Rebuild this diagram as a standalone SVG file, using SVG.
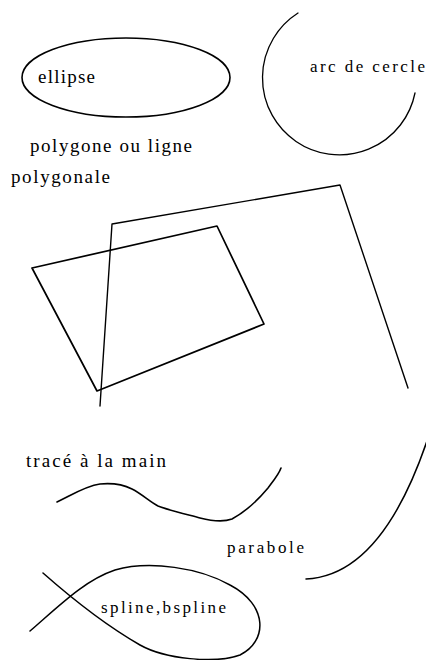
<svg xmlns="http://www.w3.org/2000/svg" width="426" height="660" viewBox="0 0 426 660">
<style>
.s{fill:none;stroke:#000;stroke-linejoin:round;stroke-linecap:round}
.t{font-family:"Liberation Serif","DejaVu Serif",serif;font-size:19px;fill:#000}
.m{font-size:17px}
</style>
<rect width="426" height="660" fill="#fff"/>
<g id="ellipse">
<ellipse class="s" cx="126" cy="77.5" rx="104" ry="39.5" stroke-width="1.6"/>
<text class="t" x="38" y="83" textLength="57" lengthAdjust="spacing">ellipse</text>
</g>
<g id="arc">
<path class="s" d="M298,13 A77,77 0 1 0 415,93" stroke-width="1.3"/>
<text class="t m" x="310" y="72" textLength="115" lengthAdjust="spacing">arc de cercle</text>
</g>
<g id="polygone">
<text class="t" x="30" y="152" textLength="162" lengthAdjust="spacing">polygone ou ligne</text>
<text class="t" x="11" y="183" textLength="99" lengthAdjust="spacing">polygonale</text>
<polygon class="s" points="32,268 217,226 264,324 97,391" stroke-width="1.7"/>
<polyline class="s" points="100,406 112,224 340,185 408,388" stroke-width="1.4"/>
</g>
<g id="main">
<text class="t" x="26" y="467" textLength="140" lengthAdjust="spacing">tracé à la main</text>
<path class="s" stroke-width="1.6" d="M57,502 C70,496 85,486 100,484 C110,483 122,484 132,489 C142,494 150,502 158,506 C168,510 185,514 200,518 C212,521 224,522 232,519 C245,512 258,500 268,488 C274,480 279,474 281,468"/>
</g>
<g id="parabole">
<text class="t m" x="227" y="553" textLength="77" lengthAdjust="spacing">parabole</text>
<path class="s" d="M306,579 C350,577 395,540 430,432" stroke-width="1.5"/>
</g>
<g id="spline">
<path class="s" stroke-width="1.5" d="M43,573 C60,588 100,622 140,645 C165,659 215,664 240,655 C268,641 268,605 230,585 C200,568 150,560 115,570 C85,580 60,605 30,631"/>
<text class="t m" x="101" y="613" textLength="125" lengthAdjust="spacing">spline,bspline</text>
</g>
</svg>
